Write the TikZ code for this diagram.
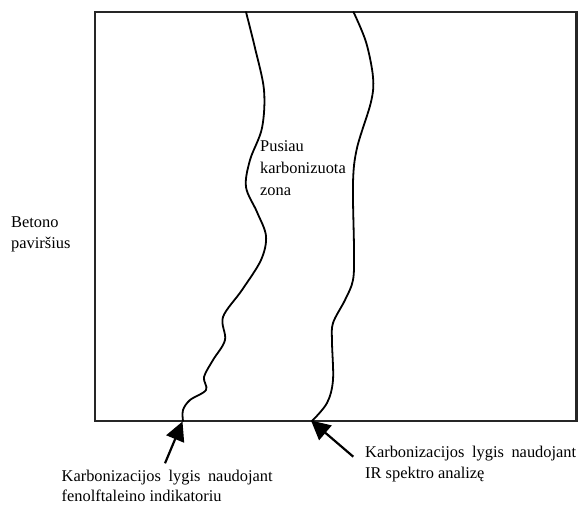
\documentclass[tikz,border=0pt]{standalone}
\usepackage{fontspec}
\setmainfont{Liberation Serif}
\usetikzlibrary{arrows.meta}
\tikzset{
  boundary/.style={line width=1.8pt, line cap=round, line join=round},
  pointer/.style={line width=2.2pt, -{Triangle[length=19pt,width=19pt]}},
  lbl/.style={inner sep=0pt, anchor=base west, align=left, font=\fontsize{16.4}{21}\selectfont},
}
\begin{document}
\begin{tikzpicture}[x=1pt,y=-1pt]
\useasboundingbox (0,0) rectangle (578,504);
\clip (0,0) rectangle (578,504);
% specimen frame
\draw[line width=2.2pt, draw=black!85] (95,12) rectangle (576.5,421);
% phenolphthalein front
\draw[boundary] plot[smooth, tension=0.55] coordinates {
  (246,12) (255,48) (264,90) (262,128) (250,160) (246,187) (257,212) (266,236)
  (261,260) (242,290) (223,317) (225,340) (213,360) (204,377) (206,390)
  (190,400) (183,410) (183,421)};
% IR front
\draw[boundary] plot[smooth, tension=0.55] coordinates {
  (353.5,12) (366,42) (373,77) (371,102) (357,148) (353,183) (354,250)
  (353,280) (345,300) (333,323) (332,342) (333,380) (327,403) (312,421)};
% labels (base anchor = baseline of the last line)
\node[lbl, font=\fontsize{16.4}{21.7}\selectfont] (zone) at (260,195.1) {Pusiau\\karbonizuota\\zona};
\node[lbl] (surface) at (11,248.3) {Betono\\paviršius};
\node[lbl, font=\fontsize{16.4}{20.5}\selectfont] (phen) at (61.5,501.5) {\makebox[211pt][s]{Karbonizacijos lygis naudojant}\\fenolftaleino indikatoriu};
\node[lbl] (ir) at (365,478.3) {\makebox[211pt][s]{Karbonizacijos lygis naudojant}\\IR spektro analizę};
% arrows
\coordinate (phentail) at (165,463.3);
\coordinate (phentip) at (182.5,421.5);
\coordinate (irtail) at (353.3,456.7);
\coordinate (irtip) at (311,420.5);
\draw[pointer] (phentail) -- (phentip);
\draw[pointer] (irtail) -- (irtip);
\end{tikzpicture}
\end{document}
